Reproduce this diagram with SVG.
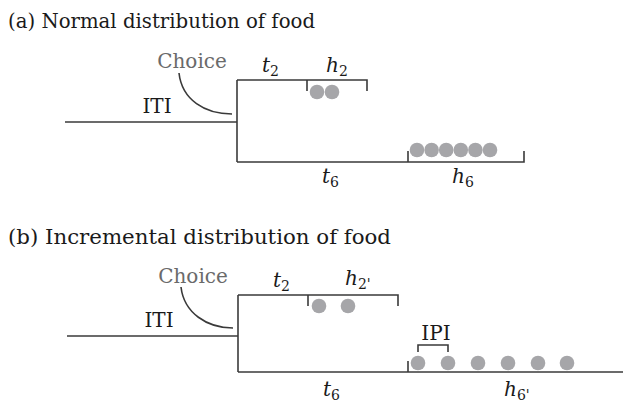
<svg xmlns="http://www.w3.org/2000/svg" width="625" height="402" viewBox="0 0 625 402">
<style>
  .ln{fill:none;stroke:#3a3a3a;stroke-width:1.6}
  .dot{fill:#a6a6a9}
  text{font-family:"DejaVu Serif","Liberation Serif",serif;font-size:20px;fill:#1a1a1a}
  .ttl{font-size:20px}
  .it{font-style:italic}
  .sub{font-style:normal;font-size:14px}
  .gray{fill:#6a6a6a}
</style>
<rect width="625" height="402" fill="#ffffff"/>
<g id="panel-a">
  <text id="title-a" class="ttl" x="8" y="28" textLength="307" lengthAdjust="spacingAndGlyphs">(a) Normal distribution of food</text>
  <g id="connectors-a">
    <path class="ln" d="M65,122 H237"/>
    <path class="ln" d="M237,80 V162"/>
    <path class="ln" d="M237,80 H367 V91"/>
    <path class="ln" d="M307,80 V91"/>
    <path class="ln" d="M237,162 H524 V151"/>
    <path class="ln" d="M408,162 V151"/>
    <path class="ln" d="M179,73 C182,100 205,114 232,114"/>
  </g>
  <g id="choice-a"><text class="gray" x="192" y="68" text-anchor="middle">Choice</text></g>
  <g id="iti-a"><text x="157" y="113" text-anchor="middle">ITI</text></g>
  <g id="t2-a"><text class="it" x="262" y="72">t<tspan class="sub" dy="4">2</tspan></text></g>
  <g id="h2-a">
    <text class="it" x="326" y="72">h<tspan class="sub" dy="4">2</tspan></text>
    <circle class="dot" cx="317" cy="92" r="7.3"/>
    <circle class="dot" cx="332" cy="92" r="7.3"/>
  </g>
  <g id="t6-a"><text class="it" x="322" y="183">t<tspan class="sub" dy="4">6</tspan></text></g>
  <g id="h6-a">
    <text class="it" x="452" y="183">h<tspan class="sub" dy="4">6</tspan></text>
    <circle class="dot" cx="417" cy="150" r="7.3"/>
    <circle class="dot" cx="431.6" cy="150" r="7.3"/>
    <circle class="dot" cx="446.2" cy="150" r="7.3"/>
    <circle class="dot" cx="460.8" cy="150" r="7.3"/>
    <circle class="dot" cx="475.4" cy="150" r="7.3"/>
    <circle class="dot" cx="490" cy="150" r="7.3"/>
  </g>
</g>
<g id="panel-b">
  <text id="title-b" class="ttl" x="8" y="244" textLength="383" lengthAdjust="spacingAndGlyphs">(b) Incremental distribution of food</text>
  <g id="connectors-b">
    <path class="ln" d="M67,336 H238"/>
    <path class="ln" d="M238,295 V372"/>
    <path class="ln" d="M238,295 H398 V306"/>
    <path class="ln" d="M308,295 V306"/>
    <path class="ln" d="M238,372 H623"/>
    <path class="ln" d="M408,372 V361"/>
    <path class="ln" d="M418,352 V345 H448 V352"/>
    <path class="ln" d="M181,287 C184,313 207,328 233,328"/>
  </g>
  <g id="choice-b"><text class="gray" x="193" y="283" text-anchor="middle">Choice</text></g>
  <g id="iti-b"><text x="159" y="327" text-anchor="middle">ITI</text></g>
  <g id="t2-b"><text class="it" x="273" y="287">t<tspan class="sub" dy="4">2</tspan></text></g>
  <g id="h2p-b">
    <text class="it" x="345" y="285">h<tspan class="sub" dy="4">2'</tspan></text>
    <circle class="dot" cx="319" cy="306" r="7.3"/>
    <circle class="dot" cx="348" cy="306" r="7.3"/>
  </g>
  <g id="ipi-b"><text x="436" y="340" text-anchor="middle">IPI</text></g>
  <g id="t6-b"><text class="it" x="323" y="396">t<tspan class="sub" dy="4">6</tspan></text></g>
  <g id="h6p-b">
    <text class="it" x="504" y="396">h<tspan class="sub" dy="4">6'</tspan></text>
    <circle class="dot" cx="418" cy="363" r="7.3"/>
    <circle class="dot" cx="448" cy="363" r="7.3"/>
    <circle class="dot" cx="478" cy="363" r="7.3"/>
    <circle class="dot" cx="508" cy="363" r="7.3"/>
    <circle class="dot" cx="538" cy="363" r="7.3"/>
    <circle class="dot" cx="567" cy="363" r="7.3"/>
  </g>
</g>
</svg>
